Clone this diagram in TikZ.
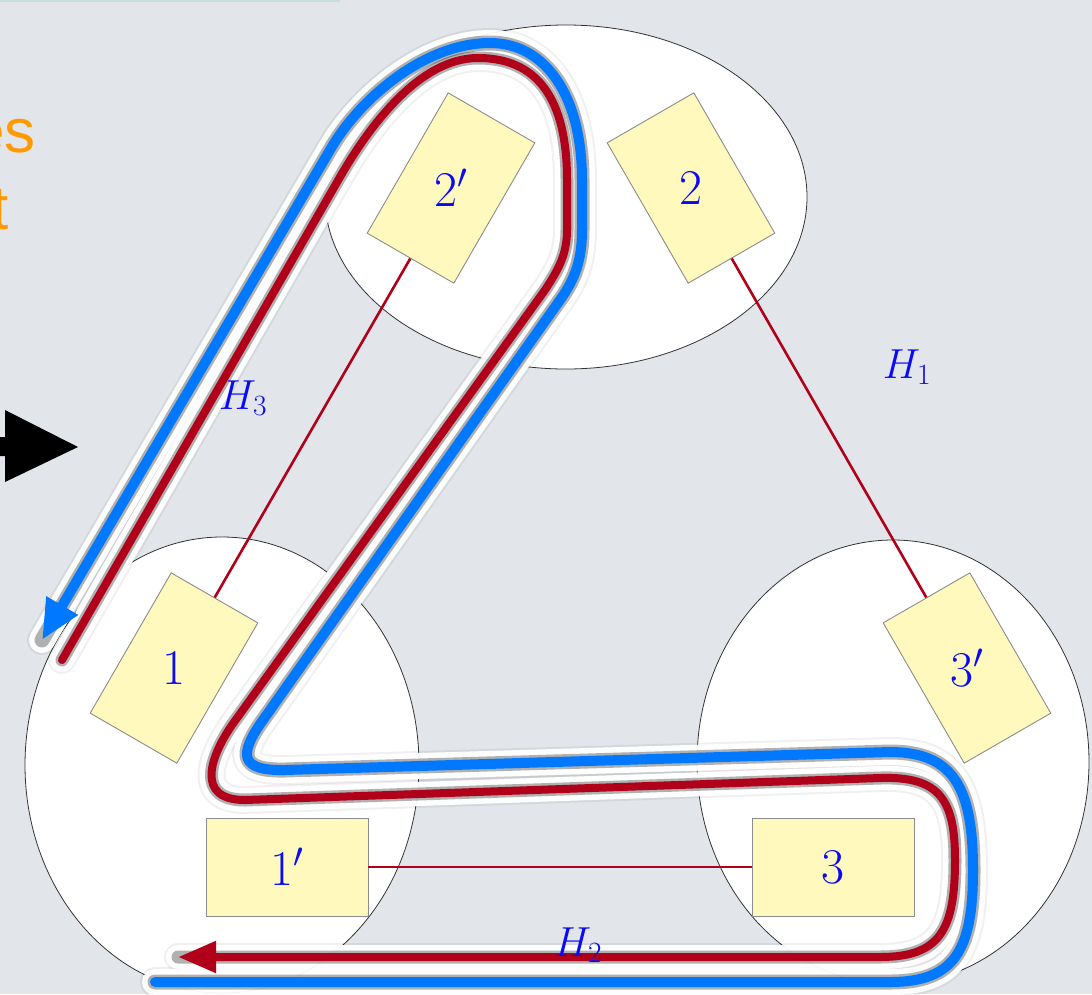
\RequirePackage{fix-cm}
\documentclass[tikz,border=0pt]{standalone}
\usepackage{fontspec}
\newfontfamily\arialfont{Liberation Sans}
\usetikzlibrary{arrows.meta}
\definecolor{bg}{RGB}{226,230,235}
\definecolor{hred}{RGB}{176,0,26}
\definecolor{hblue}{RGB}{0,120,255}
\definecolor{boxfill}{RGB}{255,249,190}
\definecolor{orangetxt}{RGB}{255,153,0}
\definecolor{lblblue}{RGB}{10,10,245}
\definecolor{topline}{RGB}{200,222,220}
\begin{document}
\begin{tikzpicture}[x=1pt,y=-1pt,
  blob/.style={fill=white,draw=black!80,line width=0.8pt},
  vbox/.style={draw=black!45,fill=boxfill,line width=0.9pt,minimum width=100pt,minimum height=162pt,inner sep=0pt},
  hbox/.style={draw=black!45,fill=boxfill,line width=0.9pt,minimum width=162pt,minimum height=98pt,inner sep=0pt},
  num/.style={text=lblblue,font=\fontsize{50}{56}\selectfont,inner sep=0pt},
  hlabel/.style={text=lblblue,font=\fontsize{42}{48}\selectfont,inner sep=0pt},
  link/.style={draw=hred,line width=2.6pt},
  shadowA/.style={line width=#1,draw=black,opacity=0.06,line cap=round,line join=round},
  whiteglow/.style={line width=#1,draw=white,opacity=0.95,line cap=round,line join=round},
  shadowB/.style={line width=#1,draw=black,opacity=0.3,line cap=round,line join=round},
  redline/.style={draw=hred,line width=8pt,line cap=round,line join=round,-{Triangle[length=38pt,width=30pt]}},
  blueline/.style={draw=hblue,line width=10pt,line cap=round,line join=round,-{Triangle[length=40pt,width=34pt]}},
  orangetext/.style={text=orangetxt,font=\arialfont\fontsize{62}{70}\selectfont,inner sep=0pt,anchor=base east}
]
\useasboundingbox (0,0) rectangle (1092,994);
\clip (0,0) rectangle (1092,994);
\fill[bg] (0,0) rectangle (1092,994);
\draw[topline,line width=2pt] (0,1) -- (340,1);

% clipped slide text and arrow
\node[orangetext] (oes) at (36,152) {es};
\node[orangetext] (ot) at (9,229) {t};
\fill[black] (-2,437) -- (5,437) -- (5,410) -- (78,447) -- (5,482) -- (5,456) -- (-2,456) -- cycle;

% groups
\draw[blob] (566,197) ellipse [x radius=241, y radius=172];
\draw[blob] (222,765) ellipse [x radius=197, y radius=228];
\draw[blob] (893,762) ellipse [x radius=196, y radius=222];

% boxes
\node[vbox,rotate=-30] (n2p) at (451,188) {};
\node[vbox,rotate=30] (n2) at (691,188) {};
\node[vbox,rotate=-30] (n1) at (174,668) {};
\node[vbox,rotate=30] (n3p) at (967,668) {};
\node[hbox] (n1p) at (287,867) {};
\node[hbox] (n3) at (833,867) {};
\node[num] (t2p) at (n2p) {$2'$};
\node[num] (t2) at (n2) {$2$};
\node[num] (t1) at (n1) {$1$};
\node[num] (t3p) at (n3p) {$3'$};
\node[num] (t1p) at (n1p) {$1'$};
\node[num] (t3) at (n3) {$3$};

% edges
\draw[link] (n2p.south) -- (n1.north);
\draw[link] (n2.south) -- (n3p.north);
\draw[link] (n1p.east) -- (n3.west);

% Hamiltonian paths
\def\redpath{(62,660) -- (340,177) .. controls (370,125) and (420,58) .. (478,58) .. controls (545,58) and (567,110) .. (567,180) -- (567,230) .. controls (567,255) and (558,270) .. (545,290) -- (232,725) .. controls (210,757) and (195,800) .. (245,800) -- (880,778) .. controls (940,776) and (955,800) .. (955,860) .. controls (955,930) and (940,957) .. (880,957) -- (178,957)}
\def\bluepath{(155,982) -- (890,982) .. controls (955,982) and (973,950) .. (973,870) .. controls (973,790) and (955,752) .. (890,752) -- (285,770) .. controls (240,771) and (238,755) .. (263,720) -- (560,300) .. controls (575,279) and (582,260) .. (582,230) -- (582,180) .. controls (582,95) and (545,43) .. (490,43) .. controls (425,43) and (360,98) .. (330,150) -- (42,640)}
\draw[shadowA=30pt] \bluepath;
\draw[shadowA=28pt] \redpath;
\draw[whiteglow=26pt] \bluepath;
\draw[whiteglow=24pt] \redpath;
\draw[shadowB=15pt] \bluepath;
\draw[shadowB=13pt] \redpath;
\draw[blueline] \bluepath;
\draw[redline] \redpath;

% labels
\node[hlabel] (h3) at (243,398) {$H_3$};
\node[hlabel] (h1) at (907,367) {$H_1$};
\node[hlabel] (h2) at (578,945) {$H_2$};
\end{tikzpicture}
\end{document}
